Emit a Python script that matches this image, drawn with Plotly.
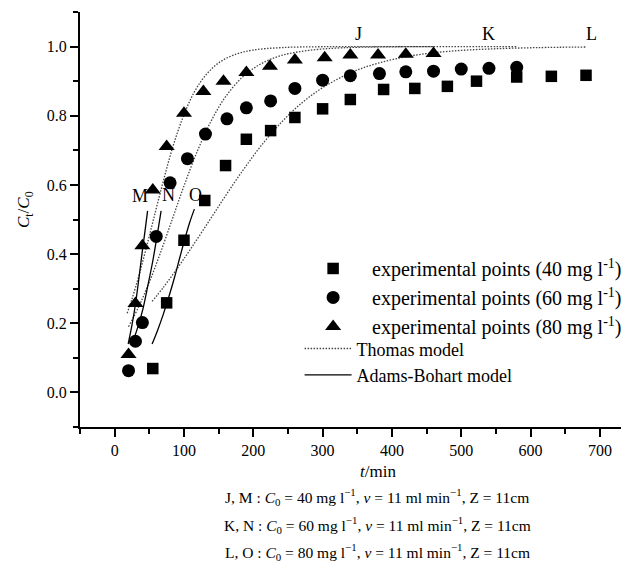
import plotly.graph_objects as go

FONT = "Liberation Serif"

# ---------------- data ----------------
# experimental points
t_40 = [55, 75, 100, 130, 160, 190, 225, 260, 300, 340, 388, 433, 480, 522, 580, 630, 680]
y_40 = [0.069, 0.259, 0.44, 0.555, 0.656, 0.732, 0.757, 0.795, 0.82, 0.847, 0.876, 0.879,
        0.885, 0.90, 0.912, 0.914, 0.917]

t_60 = [20, 30, 40, 60, 80, 105, 131, 162, 190, 225, 260, 300, 340, 382, 420, 460, 500, 540, 580]
y_60 = [0.063, 0.148, 0.202, 0.451, 0.606, 0.676, 0.747, 0.791, 0.823, 0.843, 0.879, 0.903,
        0.916, 0.922, 0.927, 0.929, 0.935, 0.937, 0.94]

t_80 = [20, 30, 40, 55, 75, 100, 128, 157, 190, 224, 260, 303, 340, 380, 420, 460]
y_80 = [0.11, 0.257, 0.424, 0.585, 0.711, 0.807, 0.87, 0.90, 0.925, 0.943, 0.961, 0.968,
        0.976, 0.976, 0.978, 0.98]

# Thomas model curves (dotted)
th80_t = [18, 25, 35, 45, 56, 70, 85, 100, 115, 130, 150, 175, 200, 240, 300, 380, 460]
th80_y = [0.229, 0.270, 0.338, 0.413, 0.50, 0.610, 0.717, 0.803, 0.869, 0.914, 0.953, 0.978,
          0.990, 0.997, 0.9996, 1.0, 1.0]

th60_t = [20, 35, 50, 65, 83, 100, 120, 140, 160, 185, 210, 240, 280, 330, 400, 480, 580]
th60_y = [0.190, 0.249, 0.319, 0.398, 0.50, 0.597, 0.701, 0.788, 0.855, 0.913, 0.949, 0.974,
          0.989, 0.9966, 0.9993, 0.9999, 1.0]

th40_t = [54, 70, 90, 110, 137, 160, 185, 210, 240, 270, 300, 340, 380, 430, 480, 540, 610, 680]
th40_y = [0.263, 0.303, 0.358, 0.416, 0.498, 0.569, 0.642, 0.710, 0.780, 0.837, 0.881, 0.924,
          0.952, 0.974, 0.986, 0.993, 0.997, 0.9988]

# Adams-Bohart model curves (solid)
ab_m_t = [19.5, 25, 30, 35, 40, 44, 47.5]
ab_m_y = [0.14, 0.195, 0.255, 0.33, 0.41, 0.47, 0.525]

ab_n_t = [25, 32, 40, 48, 55, 61, 67]
ab_n_y = [0.14, 0.18, 0.235, 0.31, 0.38, 0.45, 0.525]

ab_o_t = [54, 62, 70, 78, 86, 94, 100, 108, 115]
ab_o_y = [0.14, 0.18, 0.225, 0.275, 0.33, 0.39, 0.435, 0.49, 0.53]

# curve labels
lab_text = ["J", "K", "L", "M", "N", "O"]
lab_x = [352, 540, 688, 36, 78, 117]
lab_y = [1.035, 1.035, 1.035, 0.568, 0.572, 0.572]

x_ticks = [0, 100, 200, 300, 400, 500, 600, 700]
x_minor = [-50, 50, 150, 250, 350, 450, 550, 650]

bottom_lines = [
    "J, M : <i>C</i><sub>0</sub> = 40 mg l<sup>\u22121</sup>, <i>v</i> = 11 ml min<sup>\u22121</sup>, Z = 11cm",
    "K, N : <i>C</i><sub>0</sub> = 60 mg l<sup>\u22121</sup>, <i>v</i> = 11 ml min<sup>\u22121</sup>, Z = 11cm",
    "L, O : <i>C</i><sub>0</sub> = 80 mg l<sup>\u22121</sup>, <i>v</i> = 11 ml min<sup>\u22121</sup>, Z = 11cm",
]
bottom_y = [-0.1687, -0.236, -0.301]

# ---------------- figure ----------------
fig = go.Figure()

dot_line = dict(color="#444444", width=1.3, dash="1.5px,1.5px", shape="spline")
ab_line = dict(color="black", width=1.3, shape="spline")

for i, (tt, yy) in enumerate([(th80_t, th80_y), (th60_t, th60_y), (th40_t, th40_y)]):
    fig.add_trace(go.Scatter(x=tt, y=yy, mode="lines", line=dot_line,
                             name="Thomas model", legend="legend2",
                             showlegend=(i == 0), legendrank=1))
for i, (tt, yy) in enumerate([(ab_m_t, ab_m_y), (ab_n_t, ab_n_y), (ab_o_t, ab_o_y)]):
    fig.add_trace(go.Scatter(x=tt, y=yy, mode="lines", line=ab_line,
                             name="Adams-Bohart model", legend="legend2",
                             showlegend=(i == 0), legendrank=2))

fig.add_trace(go.Scatter(x=t_40, y=y_40, mode="markers",
                         marker=dict(symbol="square", size=11.5, color="black"),
                         name="experimental points (40 mg l<sup>-1</sup>)", legend="legend", legendrank=1))
fig.add_trace(go.Scatter(x=t_60, y=y_60, mode="markers",
                         marker=dict(symbol="circle", size=13, color="black"),
                         name="experimental points (60 mg l<sup>-1</sup>)", legend="legend", legendrank=2))
fig.add_trace(go.Scatter(x=t_80, y=y_80, mode="markers",
                         marker=dict(symbol="triangle-up", size=14, color="black"),
                         name="experimental points (80 mg l<sup>-1</sup>)", legend="legend", legendrank=3))

annotations = []
for s, xx, yy in zip(lab_text, lab_x, lab_y):
    annotations.append(dict(x=xx, y=yy, xref="x", yref="y", text=s, showarrow=False,
                            xanchor="center", yanchor="middle",
                            font=dict(family=FONT, size=18, color="black")))

# axis titles
annotations.append(dict(x=0.543, y=-0.108, xref="paper", yref="paper",
                        xanchor="center", yanchor="middle",
                        text="<i>t</i>/min", showarrow=False,
                        font=dict(family=FONT, size=17, color="black")))
annotations.append(dict(x=-0.100, y=0.523, xref="paper", yref="paper", textangle=-90,
                        xanchor="center", yanchor="middle",
                        text="<i>C</i><sub>t</sub>/<i>C</i><sub>0</sub>", showarrow=False,
                        font=dict(family=FONT, size=17, color="black")))

for line, yy in zip(bottom_lines, bottom_y):
    annotations.append(dict(x=0.541, y=yy, xref="paper", yref="paper",
                            text=line, showarrow=False, xanchor="center", yanchor="middle",
                            font=dict(family=FONT, size=15.5, color="black")))

fig.update_layout(
    width=621, height=579,
    margin=dict(l=72, r=0, t=4, b=160),
    paper_bgcolor="white", plot_bgcolor="white",
    font=dict(family=FONT, size=16, color="black"),
    annotations=annotations,
    legend=dict(x=0.39, y=0.429, xanchor="left", yanchor="top",
                font=dict(family=FONT, size=20, color="black"),
                itemwidth=68, bgcolor="rgba(0,0,0,0)", tracegroupgap=0),
    legend2=dict(x=0.40, y=0.233, xanchor="left", yanchor="top",
                 font=dict(family=FONT, size=18, color="black"),
                 itemwidth=47, bgcolor="rgba(0,0,0,0)", tracegroupgap=0),
)

fig.update_xaxes(range=[-50, 742], tickmode="array", tickvals=x_ticks,
                 ticktext=[str(v) for v in x_ticks],
                 showline=True, linecolor="black", linewidth=2,
                 ticks="outside", ticklen=8, tickwidth=1.5, tickcolor="black",
                 minor=dict(tickmode="array", tickvals=x_minor,
                            ticks="outside", ticklen=5, tickwidth=1.5, tickcolor="black"),
                 showgrid=False, zeroline=False,
                 tickfont=dict(family=FONT, size=16, color="black"))
fig.update_yaxes(range=[-0.1, 1.1], tick0=0, dtick=0.2, tickformat=".1f",
                 showline=True, linecolor="black", linewidth=2,
                 ticks="outside", ticklen=8, tickwidth=1.5, tickcolor="black",
                 minor=dict(tick0=0.1, dtick=0.2, ticks="outside", ticklen=5,
                            tickwidth=1.5, tickcolor="black"),
                 showgrid=False, zeroline=False,
                 tickfont=dict(family=FONT, size=16, color="black"))

fig.write_html("out.html")
